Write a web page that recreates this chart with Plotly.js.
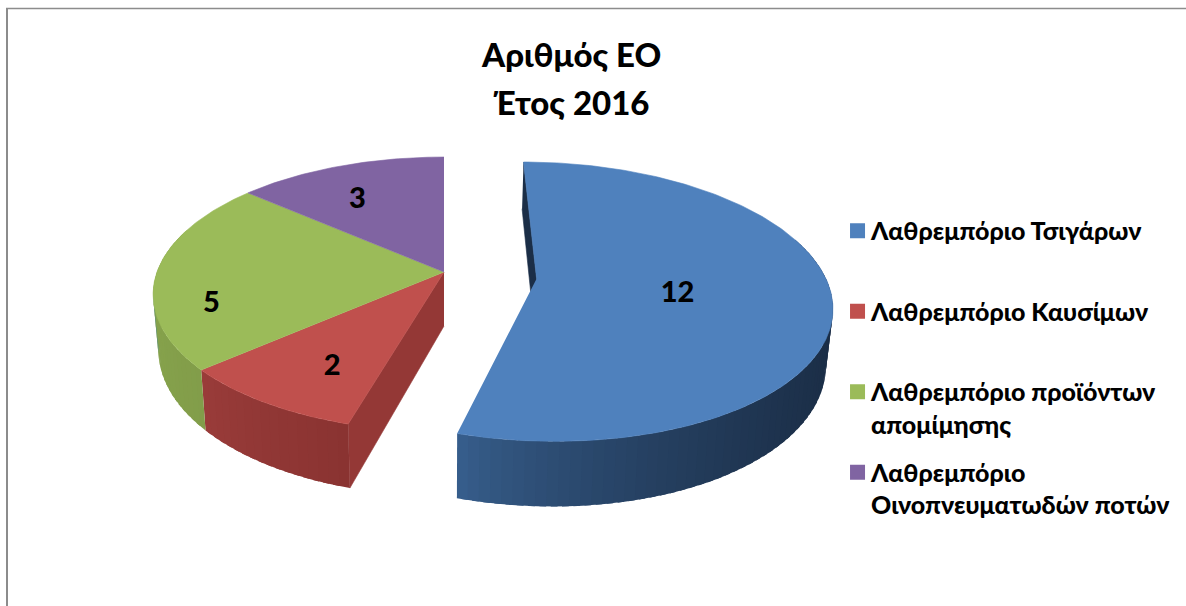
<!DOCTYPE html>
<html><head><meta charset="utf-8">
<script src="https://cdn.plot.ly/plotly-3.0.0.min.js"></script>
<style>html,body{margin:0;padding:0;background:#fff}#chart{width:1186px;height:606px}</style>
</head><body><div id="chart"></div>
<script>
const categories = ["Λαθρεμπόριο Τσιγάρων","Λαθρεμπόριο Καυσίμων","Λαθρεμπόριο προϊόντων<br>απομίμησης","Λαθρεμπόριο<br>Οινοπνευματωδών ποτών"];
const values = [12,2,5,3];
const colors = ["#4f81bd","#c0504d","#9bbb59","#8064a2"];
const rimLeft = ["#38608f","#9a3c3a","#86a24c","#6c5489"];
const rimRight = ["#1b2e47","#8a3331","#7f9a48","#5f4a78"];
const titleLines = ["Αριθμός ΕΟ","Έτος 2016"];

// projection of the tilted disc onto the pixel-sized axes
const cx=444, cy=272, A=287, B=133.7, K=0.163, DEPTH=54, SHRINK=0.982;
const pull=[[0.32,-0.05],[0,0],[0,0],[0,0]];
const labelR=[0.5,0.72,0.8,0.72], labelDx=[-5,12,-3,-9], labelDy=[6,6,33,8];
const FONT='Lato, "Open Sans", sans-serif';
const HEAVY=900;

function proj(X,Z,h){const w=1/(1+K*Z);const x=cx+A*X*w;return h?[cx+(x-cx)*SHRINK, cy-B*Z*w+DEPTH*w]:[x, cy-B*Z*w];}
const total=values.reduce((a,b)=>a+b,0);
const traces=[], tops=[], labelsX=[], labelsY=[];
function poly(pts,color,lw){return {type:'scatter',mode:'lines',x:pts.map(p=>p[0]),y:pts.map(p=>p[1]),fill:'toself',fillcolor:color,line:{color:color,width:lw===undefined?0.6:lw},hoverinfo:'skip',showlegend:false};}
function mix(a,b,t){const p=s=>[1,3,5].map(i=>parseInt(s.substr(i,2),16));const u=p(a),v=p(b);return 'rgb('+u.map((c,i)=>Math.round(c+(v[i]-c)*t)).join(',')+')';}

let acc=0;
values.forEach((v,i)=>{
  const a0=acc/total*2*Math.PI, a1=(acc+v)/total*2*Math.PI; acc+=v;
  const [ox,oz]=pull[i];
  const pt=(a,h,r=1)=>proj(ox+r*Math.sin(a),oz+r*Math.cos(a),h);
  // cut faces
  if(i===0) traces.push(poly([pt(a0,0),pt(a0,0,0),pt(a0,1,0),pt(a0,1)],"#1b2e47"));
  if(i===1) traces.push(poly([pt(a0,0,0),pt(a0,0),pt(a0,1),pt(a0,1,0)],"#943836"));
  // outer rim strips, shaded from left to right; each overlaps the next one so no seams show
  const n=Math.max(4,Math.round((a1-a0)*30));
  const xs=[];for(let k=0;k<=n;k++)xs.push(pt(a0+(a1-a0)*k/n,0)[0]);
  const xmin=Math.min(...xs), xmax=Math.max(...xs);
  for(let k=0;k<n;k++){
    const b0=a0+(a1-a0)*k/n,b1=a0+(a1-a0)*(k+1)/n,bm=(b0+b1)/2;
    if(Math.cos(bm)>0.3) continue;
    const t=Math.pow((pt(bm,0)[0]-xmin)/(xmax-xmin),0.7);
    const end=Math.min(b1+(b1-b0)*0.6,a1);
    const top=[],bot=[];
    for(let j=0;j<=3;j++){const a=b0+(end-b0)*j/3;top.push(pt(a,0));bot.unshift(pt(a,1));}
    traces.push(poly(top.concat(bot),mix(rimLeft[i],rimRight[i],t),0));
  }
  // top face
  const arc=[pt(a0,0,0)];const m=Math.max(24,Math.round((a1-a0)*60));
  for(let k=0;k<=m;k++)arc.push(pt(a0+(a1-a0)*k/m,0));
  tops.push(poly(arc,colors[i]));
  const mid=(a0+a1)/2, lp=pt(mid,0,labelR[i]);
  labelsX.push(lp[0]+labelDx[i]);labelsY.push(lp[1]+labelDy[i]);
});
tops.forEach(t=>traces.push(t));
traces.push({type:'scatter',mode:'text',x:labelsX,y:labelsY,text:values.map(String),textposition:'middle center',textfont:{family:FONT,size:29,color:'#000',weight:HEAVY},hoverinfo:'skip',showlegend:false});
categories.forEach((c,i)=>traces.push({type:'scatter',mode:'markers',x:[null],y:[null],name:c+(c.includes('<br>')?'':'<br> '),legendgroup:'g'+i,marker:{symbol:'square',size:15,color:colors[i]},showlegend:true}));

const layout={
  width:1186,height:606,margin:{l:0,r:0,t:0,b:0},paper_bgcolor:'#fff',plot_bgcolor:'#fff',
  xaxis:{range:[0,1186],visible:false,fixedrange:true},
  yaxis:{range:[606,0],visible:false,fixedrange:true},
  title:{text:titleLines.map(t=>'<span style="font-size:33px">'+t+'</span>').join('<br>'),font:{family:FONT,size:37,color:'#000',weight:HEAVY},x:0.482,xanchor:'center',y:0.89,yanchor:'middle'},
  legend:{x:0.7007,xanchor:'left',y:0.393,yanchor:'middle',font:{family:FONT,size:25,color:'#000',weight:HEAVY},tracegroupgap:12.5,itemwidth:30,bgcolor:'rgba(0,0,0,0)'},
  shapes:[
    {type:'line',xref:'x',yref:'y',x0:7,x1:7,y0:8,y1:606,line:{color:'#8c8c8c',width:2}},
    {type:'line',xref:'x',yref:'y',x0:6,x1:1186,y0:8.5,y1:8.5,line:{color:'#8c8c8c',width:1.5}}
  ]
};
Plotly.newPlot('chart',traces,layout,{displayModeBar:false,staticPlot:true}).then(gd=>{
  // legend keys sit beside the first line of their entry
  gd.querySelectorAll('.legend .traces .legendsymbols').forEach(g=>g.setAttribute('transform','translate(6.5,-16)'));
});
</script></body></html>
